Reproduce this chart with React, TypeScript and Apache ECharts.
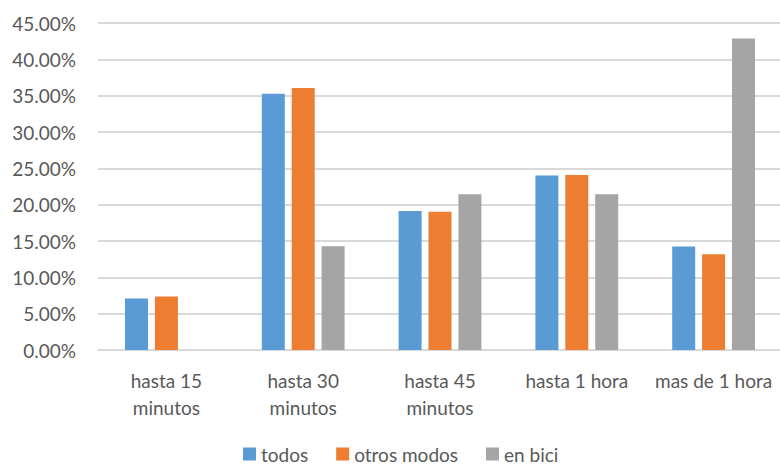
import React, { useEffect, useRef } from "react";
import * as echarts from "echarts";

// Travel-time buckets
const categories = [
  "hasta 15\nminutos",
  "hasta 30\nminutos",
  "hasta 45\nminutos",
  "hasta 1 hora",
  "mas de 1 hora",
];

// Share of trips (%) per bucket
const todos = [7.1, 35.25, 19.12, 24.0, 14.25];
const otrosModos = [7.36, 36.04, 19.03, 24.09, 13.19];
const enBici = [0, 14.29, 21.43, 21.43, 42.86];

const seriesNames = ["todos", "otros modos", "en bici"];
const seriesColors = ["#5B9BD5", "#ED7D31", "#A5A5A5"];

const FONT = "Lato, 'Noto Sans', sans-serif";
const TEXT = "#595959";
const FS = 19;

export default function App() {
  const ref = useRef<HTMLDivElement>(null);

  useEffect(() => {
    if (!ref.current) return;
    document.body.style.margin = "0";
    const chart = echarts.init(ref.current, null, { renderer: "svg" });
    const data = [todos, otrosModos, enBici];
    chart.setOption({
      animation: false,
      backgroundColor: "#ffffff",
      textStyle: { fontFamily: FONT },
      grid: {
        left: 98,
        top: 23,
        width: 684,
        height: 327,
        containLabel: false,
        outerBoundsMode: "none",
      },
      legend: {
        data: seriesNames,
        left: 243,
        top: 443,
        padding: 0,
        icon: "rect",
        itemWidth: 13,
        itemHeight: 13,
        itemGap: 28,
        textStyle: {
          color: TEXT,
          fontSize: FS,
          fontFamily: FONT,
          lineHeight: 22,
        },
      },
      xAxis: {
        type: "category",
        data: categories,
        axisLine: { show: true, lineStyle: { color: "#D9D9D9", width: 2 } },
        axisTick: { show: false },
        axisLabel: {
          interval: 0,
          color: TEXT,
          fontSize: FS,
          fontFamily: FONT,
          lineHeight: 27,
          margin: 17,
        },
      },
      yAxis: {
        type: "value",
        min: 0,
        max: 45,
        interval: 5,
        axisLine: { show: false },
        axisTick: { show: false },
        splitLine: { lineStyle: { color: "#D9D9D9", width: 2 } },
        axisLabel: {
          color: TEXT,
          fontSize: FS,
          fontFamily: FONT,
          margin: 22,
          formatter: (v: number) => `${v.toFixed(2)}%`,
        },
      },
      series: seriesNames.map((name, i) => ({
        name,
        type: "bar",
        data: data[i],
        barWidth: 23,
        barGap: "30%",
        itemStyle: { color: seriesColors[i] },
      })),
    });
    return () => chart.dispose();
  }, []);

  return <div ref={ref} style={{ width: 780, height: 466 }} />;
}
